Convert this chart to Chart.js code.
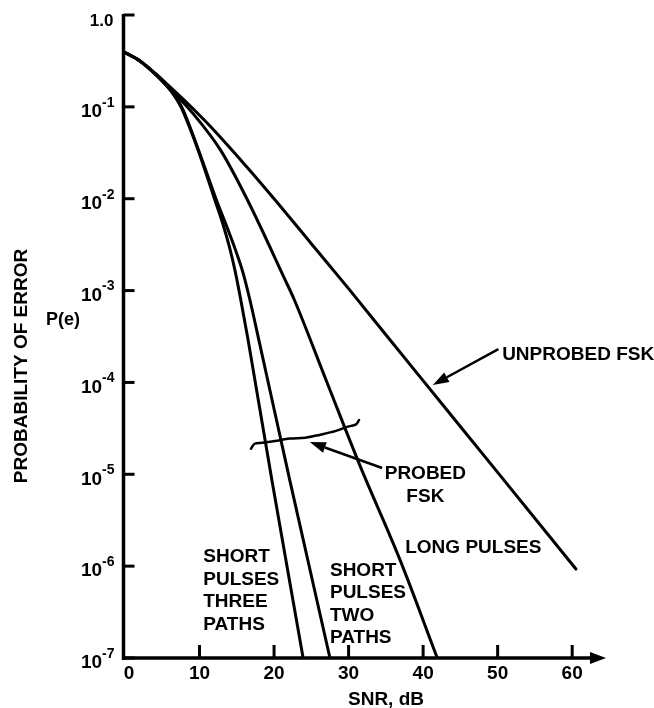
<!DOCTYPE html>
<html>
<head>
<meta charset="utf-8">
<script src="https://cdn.jsdelivr.net/npm/chart.js@4/dist/chart.umd.min.js"></script>
<style>
  html, body { margin: 0; padding: 0; background: #fff; }
  #wrap { width: 654px; height: 708px; position: relative; }
</style>
</head>
<body>
<div id="wrap"><canvas id="c" width="654" height="708"></canvas></div>
<script>
// Error probability versus SNR (dB) for FSK signalling
const unprobedSnr = [0, 2, 4, 6, 8, 10, 12, 15, 20, 25, 30, 35, 42, 50, 60.5];
const unprobedP   = [0.39, 0.316, 0.234, 0.166, 0.117, 0.081, 0.055, 0.0295, 0.01, 3.24e-3, 1.05e-3, 3.3e-4, 6.6e-5, 1.05e-5, 9.3e-7];

const longSnr = [0, 2, 4, 6, 9.1, 12.8, 16.4, 21.5, 22.7, 27, 31.5, 36.9, 41.9];
const longP   = [0.39, 0.316, 0.23, 0.158, 0.085, 0.034, 0.0098, 1.3e-3, 8e-4, 1.05e-4, 1.26e-5, 1.17e-6, 1e-7];

const twoSnr = [0, 2, 4, 6, 7.6, 9.8, 12.2, 13.6, 14.8, 15.8, 16.7, 18, 22.1, 27.5];
const twoP   = [0.39, 0.316, 0.23, 0.155, 0.1, 0.035, 0.01, 5.1e-3, 2.8e-3, 1.6e-3, 8.3e-4, 2.8e-4, 8.7e-6, 1e-7];

const threeSnr = [0, 2, 4, 6, 7.5, 9.8, 12.0, 13.0, 14.0, 14.8, 15.6, 16.5, 19.7, 23.9];
const threeP   = [0.39, 0.316, 0.23, 0.155, 0.1, 0.034, 0.01, 5.75e-3, 3.0e-3, 1.6e-3, 7.4e-4, 2.95e-4, 8.7e-6, 1e-7];

// probed FSK range marker
const probedSnr = [16.9, 17.4, 18.4, 20.1, 22.1, 24.2, 26.2, 28.2, 29.9, 31.0, 31.4];
const probedP   = [1.9e-5, 2.15e-5, 2.2e-5, 2.3e-5, 2.45e-5, 2.5e-5, 2.7e-5, 2.95e-5, 3.3e-5, 3.5e-5, 3.9e-5];

// axis ticks
const xTicks = [0, 10, 20, 30, 40, 50, 60];
const yTickExp = [0, -1, -2, -3, -4, -5, -6, -7];

const FONT = '"Liberation Sans", Arial, Helvetica, sans-serif';

function pts(xs, ys) { return xs.map((x, i) => ({ x: x, y: ys[i] })); }

function line(xs, ys, w) {
  return {
    data: pts(xs, ys),
    borderColor: '#000',
    borderWidth: w,
    pointRadius: 0,
    fill: false,
    cubicInterpolationMode: 'monotone',
    borderCapStyle: 'round',
    borderJoinStyle: 'round'
  };
}

function arrow(ctx, x0, y0, x1, y1, headLen, headHalf, w) {
  const a = Math.atan2(y1 - y0, x1 - x0);
  const bx = x1 - headLen * Math.cos(a), by = y1 - headLen * Math.sin(a);
  ctx.beginPath();
  ctx.lineWidth = w;
  ctx.moveTo(x0, y0);
  ctx.lineTo(bx, by);
  ctx.stroke();
  ctx.beginPath();
  ctx.moveTo(x1, y1);
  ctx.lineTo(bx + headHalf * Math.sin(a), by - headHalf * Math.cos(a));
  ctx.lineTo(bx - headHalf * Math.sin(a), by + headHalf * Math.cos(a));
  ctx.closePath();
  ctx.fill();
}

const decor = {
  id: 'decor',
  afterDatasetsDraw(chart) {
    const ctx = chart.ctx;
    const xs = chart.scales.x, ys = chart.scales.y;
    const X = v => xs.getPixelForValue(v);
    const Y = v => ys.getPixelForValue(v);
    const ax = X(0) - 1.5;
    const bottom = Y(1e-7);
    const top = Y(1);

    ctx.save();
    ctx.strokeStyle = '#000';
    ctx.fillStyle = '#000';
    ctx.lineCap = 'butt';

    // y axis
    ctx.lineWidth = 3.5;
    ctx.beginPath();
    ctx.moveTo(ax, top - 1);
    ctx.lineTo(ax, bottom + 2);
    ctx.stroke();

    // x axis with arrow head
    const xEnd = X(64) + 4;
    ctx.beginPath();
    ctx.moveTo(ax - 1.5, bottom);
    ctx.lineTo(xEnd - 12, bottom);
    ctx.stroke();
    ctx.beginPath();
    ctx.moveTo(xEnd, bottom);
    ctx.lineTo(xEnd - 16, bottom - 6);
    ctx.lineTo(xEnd - 16, bottom + 6);
    ctx.closePath();
    ctx.fill();

    // y ticks and labels
    ctx.lineWidth = 3;
    yTickExp.forEach(e => {
      const y = Y(Math.pow(10, e));
      ctx.beginPath();
      ctx.moveTo(ax, y);
      ctx.lineTo(ax + 11, y);
      ctx.stroke();
      ctx.textBaseline = 'middle';
      ctx.textAlign = 'right';
      if (e === 0) {
        ctx.font = 'bold 17px ' + FONT;
        ctx.fillText('1.0', ax - 10, y + 6);
      } else {
        const sup = '-' + Math.abs(e);
        ctx.font = 'bold 14px ' + FONT;
        const sw = ctx.measureText(sup).width;
        ctx.fillText(sup, ax - 9, y - 4);
        ctx.font = 'bold 19px ' + FONT;
        ctx.fillText('10', ax - 9 - sw, y + 5);
      }
    });

    // x ticks and labels
    ctx.textAlign = 'center';
    ctx.font = 'bold 19px ' + FONT;
    xTicks.forEach(v => {
      const x = X(v);
      if (v > 0) {
        ctx.beginPath();
        ctx.moveTo(x, bottom);
        ctx.lineTo(x, bottom - 13);
        ctx.stroke();
      }
      ctx.fillText(String(v), x + (v === 0 ? 4 : 0), bottom + 16);
    });

    // axis titles
    ctx.fillText('SNR, dB', 386, bottom + 42);
    ctx.font = 'bold 18px ' + FONT;
    ctx.fillText('P(e)', 63, 320);
    ctx.save();
    ctx.translate(22, 366);
    ctx.rotate(-Math.PI / 2);
    ctx.font = 'bold 19px ' + FONT;
    ctx.fillText('PROBABILITY OF ERROR', 0, 0);
    ctx.restore();

    // curve annotations
    ctx.font = 'bold 19px ' + FONT;
    ctx.textAlign = 'left';
    ctx.fillText('UNPROBED FSK', X(50.6), Y(2.0e-4));
    arrow(ctx, X(50.1), Y(2.3e-4), X(41.3), Y(9.4e-5), 16, 5.5, 2.5);

    ctx.textAlign = 'center';
    ctx.fillText('PROBED', X(40.3), Y(1.01e-5));
    ctx.fillText('FSK', X(40.3), Y(5.7e-6));
    arrow(ctx, X(34.5), Y(1.17e-5), X(24.8), Y(2.24e-5), 16, 5.5, 2.5);

    ctx.textAlign = 'left';
    ctx.fillText('LONG PULSES', X(37.6), Y(1.58e-6));

    const step = 22.5;
    const y3 = Y(1.25e-6);
    ['SHORT', 'PULSES', 'THREE', 'PATHS'].forEach((t, i) => ctx.fillText(t, X(10.5), y3 + i * step));
    const y2 = Y(9.0e-7);
    ['SHORT', 'PULSES', 'TWO', 'PATHS'].forEach((t, i) => ctx.fillText(t, X(27.5), y2 + i * step));

    ctx.restore();
  }
};

new Chart(document.getElementById('c'), {
  type: 'line',
  data: {
    datasets: [
      line(unprobedSnr, unprobedP, 3),
      line(longSnr, longP, 3),
      line(twoSnr, twoP, 3),
      line(threeSnr, threeP, 3),
      Object.assign(line(probedSnr, probedP, 2.5), { cubicInterpolationMode: 'default', tension: 0.35 })
    ]
  },
  options: {
    responsive: false,
    devicePixelRatio: 1,
    animation: false,
    layout: { padding: { left: 125, right: 52, top: 15, bottom: 50 } },
    plugins: { legend: { display: false }, tooltip: { enabled: false } },
    scales: {
      x: { type: 'linear', min: 0, max: 64, display: false },
      y: { type: 'logarithmic', min: 1e-7, max: 1, display: false }
    }
  },
  plugins: [decor]
});
</script>
</body>
</html>
